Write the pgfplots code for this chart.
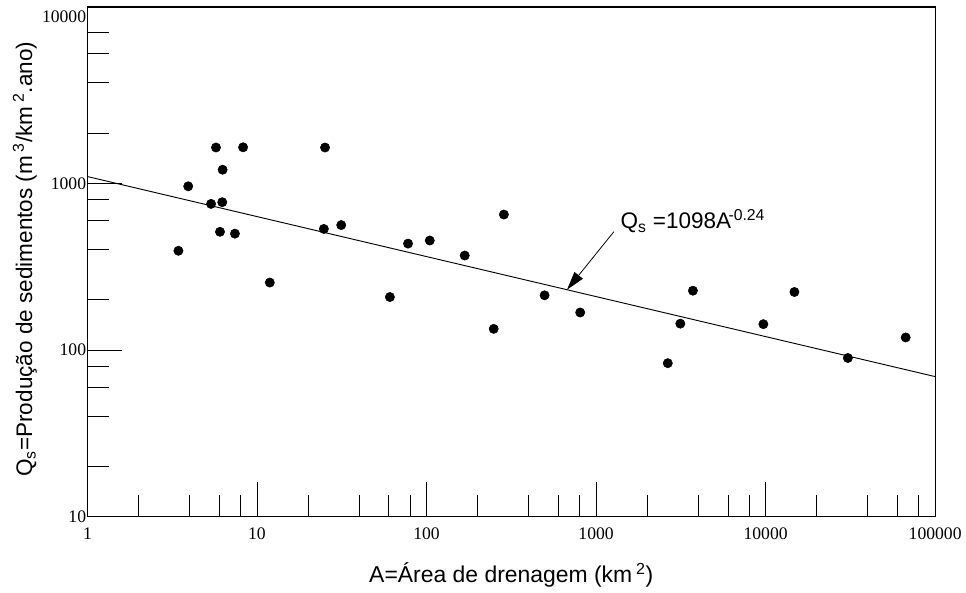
\documentclass[border=0pt]{standalone}
\usepackage{fontspec}
\setmainfont{Liberation Sans}
\newfontfamily\tickfont{Liberation Serif}
\usepackage{pgfplots}
\usepackage{pgfplotstable}
\pgfplotsset{compat=1.18}
\usetikzlibrary{arrows.meta}

% area (km2) and sediment yield (m3/km2.ano)
\pgfplotstableread{
A Qs
3.44 394
3.93 960
5.36 753
5.73 1640
6.27 1207
6.24 771
6.05 512
7.41 499
8.28 1645
11.9 254
25.2 1640
24.8 533
31.4 562
60.8 208
77.8 435
104.5 454
168 369
286 650
249 134
497 213
806 168
2648 83.4
3141 144
3726 227
9700 143
14790 223
30560 89.6
67000 119
}\sedimentos

\begin{document}
\begin{tikzpicture}
\begin{axis}[
    xmode=log, ymode=log,
    scale only axis,
    width=639.75pt, height=384.75pt,
    xmin=1, xmax=100000, ymin=10, ymax=11430,
    axis line style={line width=0.9pt},
    tick style={black, line width=0.7pt},
    tick align=inside,
    tick pos=left,
    xtick={10,100,1000,10000}, xticklabels={10,100,1000,10000},
    minor xtick={2,4,6,8,20,40,60,80,200,400,600,800,2000,4000,6000,8000,20000,40000,60000,80000},
    extra x ticks={1,100000}, extra x tick labels={1,100000},
    ytick={100,1000}, yticklabels={100,1000},
    minor ytick={20,40,60,80,200,400,600,800,2000,4000,6000,8000},
    extra y ticks={10,10000}, extra y tick labels={10,10000},
    extra tick style={major tick length=0pt},
    major tick length=26pt, minor tick length=16.5pt,
    /pgf/number format/assume math mode=true,
    ticklabel style={font=\tickfont\fontsize{13.3}{15}\selectfont},
    xticklabel style={yshift=-5pt},
    yticklabel style={xshift=2.5pt},
    xlabel={A=Área de drenagem (km\,\textsuperscript{2})},
    xlabel style={at={(axis description cs:0.5,-0.115)}, anchor=center, font=\fontsize{17.3}{20}\selectfont},
    ylabel={Q\textsubscript{s}=Produção de sedimentos (m\,\textsuperscript{3}/km\,\textsuperscript{2}.ano)},
    ylabel style={at={(axis description cs:-0.0739,0.505)}, anchor=center, font=\fontsize{17}{20}\selectfont},
]
\addplot[black, line width=0.7pt] coordinates {(1,1098) (100000,69.3)};
\addplot[only marks, mark=*, mark size=3.5pt, black] table {\sedimentos};
\draw[-{Triangle[length=14pt,width=8pt]}, line width=0.6pt] (axis cs:1274,513) -- (axis cs:674,230);
\node[anchor=base west, font=\fontsize{17}{20}\selectfont] at (axis cs:1309,535)
    {Q\textsubscript{s} =1098A\kern-2pt\textsuperscript{-0.24}};
\end{axis}
\path (current axis.south west) ++(-66pt,-54pt) rectangle ++(724.5pt,444pt);
\end{tikzpicture}
\end{document}
